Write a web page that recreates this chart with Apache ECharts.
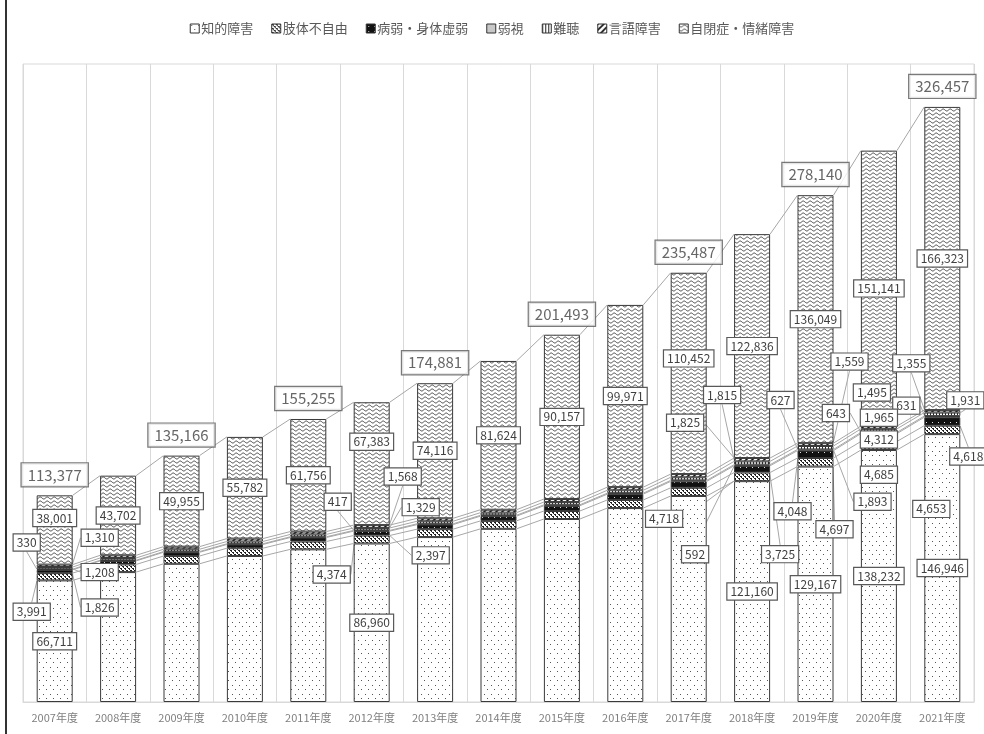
<!DOCTYPE html>
<html><head><meta charset="utf-8">
<script src="https://cdn.jsdelivr.net/npm/echarts@6/dist/echarts.min.js"></script>
<style>html,body{margin:0;padding:0;background:#fff}#c{width:984px;height:734px}</style>
</head><body><div id="c"></div>
<script>
// ---- data ----
const years = ['2007年度','2008年度','2009年度','2010年度','2011年度','2012年度','2013年度','2014年度','2015年度','2016年度','2017年度','2018年度','2019年度','2020年度','2021年度'];
const seriesNames = ['知的障害','肢体不自由','病弱・身体虚弱','弱視','難聴','言語障害','自閉症・情緒障害'];
const chiteki = [66711,71264,75810,80099,83739,86960,90480,95006,100386,106388,113025,121160,129167,138232,146946];
const shitai  = [3991,4201,4265,4265,4300,4374,4335,4350,4400,4450,4500,4718,4697,4685,4653];
const byojaku = [1826,1923,2051,2054,2200,2397,2500,2600,2900,3200,3500,3725,4048,4312,4618];
const jakushi = [330,353,386,372,400,417,450,470,500,530,560,592,627,643,631];
const nancho  = [1208,1264,1273,1262,1300,1329,1400,1450,1500,1600,1700,1815,1893,1965,1931];
const gengo   = [1310,1459,1426,1597,1560,1568,1600,1600,1650,1700,1750,1825,1559,1495,1355];
const jihei   = [38001,43702,49955,55782,61756,67383,74116,81624,90157,99971,110452,122836,136049,151141,166323];
const totals  = [113377,null,135166,null,155255,null,174881,null,201493,null,235487,null,278140,null,326457];
const values = [chiteki, shitai, byojaku, jakushi, nancho, gengo, jihei];

// ---- label placement (offsets from segment centre, px) ----
const LBL = {
  '0-0':[0,0],'1-0':[-23,35],'2-0':[45,36],'3-0':[-28,-27],'4-0':[45,4],'5-0':[45,-28],'6-0':[0,-12],
  '6-1':[0,0],'6-2':[0,0],'6-3':[0,0],'6-4':[0,0],
  '0-5':[0,0],'1-5':[-40,35],'2-5':[59,22],'3-5':[-34,-29],'4-5':[49,-22],'5-5':[31,-50],'6-5':[0,-22],
  '6-6':[0,0],'6-7':[0,0],'6-8':[0,0],'6-9':[0,0],'6-10':[0,-15],
  '0-11':[0,0],'1-11':[-88,42],'2-11':[28,85],'3-11':[-57,89],'4-11':[-30,-68],'5-11':[-67,-37],'6-11':[0,0],
  '0-12':[0,0],'1-12':[19,67],'2-12':[-23,57],'3-12':[-35,-50],'4-12':[57,54],'5-12':[34,-83],'6-12':[0,0],
  '0-13':[0,0],'1-13':[0,29],'2-13':[0,2],'3-13':[-43,-20],'4-13':[0,-13],'5-13':[-7,-35],'6-13':[0,0],
  '0-14':[0,0],'1-14':[-11,79],'2-14':[26,35],'3-14':[-36,-11],'4-14':[23,-14],'5-14':[-31,-48],'6-14':[0,0]
};

// ---- patterns ----
function pat(w,h,draw){const c=document.createElement('canvas');c.width=w;c.height=h;const g=c.getContext('2d');draw(g,w,h);return {image:c,repeat:'repeat'};}
const patterns = [
  pat(7,9,(g,w,h)=>{g.fillStyle='#fff';g.fillRect(0,0,w,h);g.fillStyle='#555';g.fillRect(1,1,1,1);g.fillRect(4,5,1,1);}),
  pat(4,4,(g,w,h)=>{g.fillStyle='#fff';g.fillRect(0,0,w,h);g.fillStyle='#222';g.fillRect(0,0,2,1);g.fillRect(2,2,2,1);g.fillRect(1,1,1,1);g.fillRect(3,3,1,1);}),
  pat(6,5,(g,w,h)=>{g.fillStyle='#111';g.fillRect(0,0,w,h);g.fillStyle='#ddd';g.fillRect(2,2,1,1);}),
  pat(4,4,(g,w,h)=>{g.fillStyle='#c8c8c8';g.fillRect(0,0,w,h);}),
  pat(3,3,(g,w,h)=>{g.fillStyle='#fff';g.fillRect(0,0,w,h);g.fillStyle='#222';g.fillRect(0,0,1,3);}),
  pat(6,6,(g,w,h)=>{g.fillStyle='#fff';g.fillRect(0,0,w,h);g.strokeStyle='#111';g.lineWidth=1.6;g.beginPath();g.moveTo(-1,7);g.lineTo(7,-1);g.moveTo(-4,4);g.lineTo(4,-4);g.moveTo(2,10);g.lineTo(10,2);g.stroke();}),
  pat(7,4,(g,w,h)=>{g.fillStyle='#fff';g.fillRect(0,0,w,h);g.strokeStyle='#333';g.lineWidth=0.9;g.beginPath();for(let x=0;x<=w;x+=0.5){const y=2+1.0*Math.sin(x/w*2*Math.PI);if(x===0)g.moveTo(x,y);else g.lineTo(x,y);}g.stroke();})
];

const fmt = v => Number(v).toLocaleString('en-US');
const BW = 36;

// cumulative boundaries for series lines
const cum = [];
{let run = years.map(()=>0);
 values.forEach(arr=>{run = run.map((r,i)=>r+arr[i]); cum.push(run.slice());});}

const barSeries = values.map((arr,si)=>({
  name: seriesNames[si], type:'bar', stack:'all', barWidth:BW, z:3,
  itemStyle:{color:patterns[si], borderColor:'#3a3a3a', borderWidth:1},
  label:{show:false},
  labelLine:{show:false, lineStyle:{color:'#a6a6a6',width:1}},
  labelLayout: p => { const o = LBL[p.seriesIndex+'-'+p.dataIndex]; return o ? {dx:o[0],dy:o[1]} : {}; },
  data: arr.map((v,i)=>{
    const o = LBL[si+'-'+i];
    if(!o) return v;
    return {value:v,
      label:{show:true, position:'inside', formatter:p=>fmt(p.value), fontSize:12, color:'#404040',
             fontFamily:'Noto Sans CJK JP', backgroundColor:'#fff', borderColor:'#595959', borderWidth:1.2, padding:[2,3]},
      labelLine:{show:(o[0]!==0||Math.abs(o[1])>25), lineStyle:{color:'#a6a6a6',width:1}}};
  })
}));

const chart = echarts.init(document.getElementById('c'));
chart.setOption({
  animation:false,
  textStyle:{fontFamily:'Noto Sans CJK JP'},
  legend:{top:17, left:'center', itemWidth:9, itemHeight:9, itemGap:18, icon:'rect',
    itemStyle:{borderColor:'#333',borderWidth:1},
    textStyle:{color:'#595959',fontSize:13, padding:[0,0,0,-3]}, data:seriesNames},
  grid:{left:23, right:10, top:64, bottom:32, show:true, borderColor:'#d9d9d9', borderWidth:1},
  xAxis:{type:'category', data:years, axisTick:{show:false},
    axisLine:{lineStyle:{color:'#d9d9d9'}},
    axisLabel:{color:'#7f7f7f', fontSize:11, margin:10},
    splitLine:{show:true, lineStyle:{color:'#d9d9d9'}}},
  yAxis:{type:'value', min:0, max:350000, show:false, splitLine:{show:false}},
  graphic:[
    {type:'line', shape:{x1:6,y1:0,x2:6,y2:734}, style:{stroke:'#333',lineWidth:2}, silent:true}
  ],
  series:[
    ...barSeries,
    {type:'custom', z:1, silent:true, data:years.slice(0,-1).map((y,i)=>[i]),
     renderItem:(params,api)=>{
       const i = api.value(0);
       const children = cum.map(c=>{
         const a = api.coord([i, c[i]]), b = api.coord([i+1, c[i+1]]);
         return {type:'line', shape:{x1:a[0]+BW/2, y1:a[1], x2:b[0]-BW/2, y2:b[1]}, style:{stroke:'#a6a6a6', lineWidth:1}};
       });
       return {type:'group', children};
     }},
    {type:'scatter', z:5, symbolSize:0, silent:true,
     data: totals.map((t,i)=> t==null ? null : [i,t]).filter(d=>d),
     label:{show:true, position:'top', distance:9, formatter:p=>fmt(p.value[1]), fontSize:15, color:'#404040',
            backgroundColor:'#fff', borderColor:'#595959', borderWidth:1.2, padding:[4,6]}}
  ]
});
</script></body></html>
